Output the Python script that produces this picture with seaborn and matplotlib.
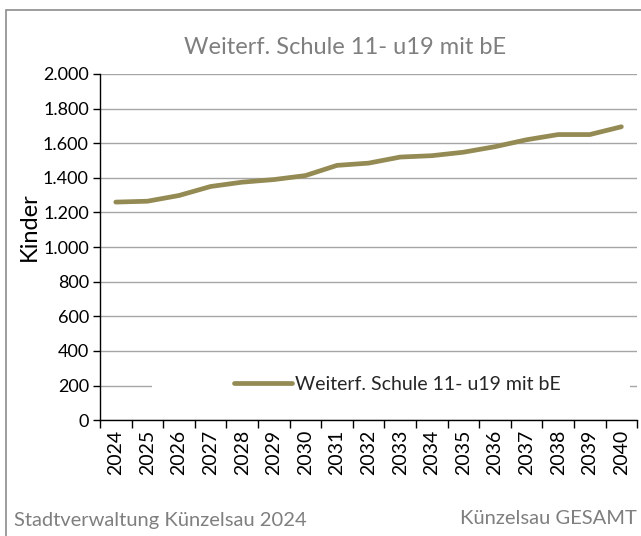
import pandas as pd
import seaborn as sns
import matplotlib.pyplot as plt
from matplotlib.ticker import FuncFormatter, MultipleLocator
from matplotlib.patches import Rectangle

# Data
years = [str(y) for y in range(2024, 2041)]
kinder = [1260, 1265, 1298, 1350, 1375, 1390, 1413, 1472, 1485,
          1520, 1528, 1548, 1580, 1620, 1650, 1650, 1695]
series_name = 'Weiterf. Schule 11- u19 mit bE'
line_color = '#948a54'
grey = '#7f7f7f'

df = pd.DataFrame({'Jahr': years, 'Kinder': kinder})

sns.set_theme(style='white')
plt.rcParams['font.family'] = ['Lato', 'DejaVu Sans']

fig = plt.figure(figsize=(6.41, 5.36), dpi=100)
ax = fig.add_axes([0.156, 0.216, 0.838, 0.646])

sns.lineplot(data=df, x='Jahr', y='Kinder', ax=ax, color=line_color,
             linewidth=3.4, label=series_name, zorder=3)

# axes styling
ax.set_ylim(0, 2000)
ax.set_xlim(-0.5, len(years) - 0.5)
ax.yaxis.set_major_locator(MultipleLocator(200))
ax.yaxis.set_major_formatter(FuncFormatter(lambda v, p: f'{int(v):,}'.replace(',', '.')))
ax.grid(axis='y', color='#a6a6a6', linewidth=1)
ax.set_axisbelow(True)
for s in ['top', 'right']:
    ax.spines[s].set_visible(False)
for s in ['left', 'bottom']:
    ax.spines[s].set_color('black')
    ax.spines[s].set_linewidth(1)

ax.xaxis.set_minor_locator(MultipleLocator(1, offset=0.5))
ax.tick_params(axis='x', which='major', length=0, labelsize=14, rotation=90, pad=7, colors='black')
ax.tick_params(axis='x', which='minor', length=6, width=1, direction='out', bottom=True, color='black')
ax.tick_params(axis='y', length=5, width=1, direction='out', left=True, labelsize=13, pad=3, colors='black')

ax.set_xlabel('')
ax.set_ylabel('Kinder', fontsize=17, color='black')
ax.yaxis.set_label_coords(-0.112, 0.558)

# legend inside the plot on a white strip
ax.add_patch(Rectangle((0.097, 0.083), 0.89, 0.04, transform=ax.transAxes,
                       facecolor='white', edgecolor='none', zorder=1))
ax.legend(loc='center', bbox_to_anchor=(0.553, 0.104), frameon=False,
          handlelength=3.0, handletextpad=0.15, fontsize=14)

# title and footers
fig.text(0.538, 0.912, series_name, ha='center', va='center', fontsize=17, color=grey)
fig.text(0.022, 0.028, 'Stadtverwaltung Künzelsau 2024', ha='left', va='center', fontsize=14.5, color=grey)
fig.text(0.994, 0.032, 'Künzelsau GESAMT', ha='right', va='center', fontsize=14.5, color=grey)

# chart border
fig.patches.append(Rectangle((6 / 641, -0.05), 1.1, 1 - 10 / 536 + 0.05, transform=fig.transFigure,
                             facecolor='none', edgecolor='#8c8c8c', linewidth=1.2))

fig.savefig('out.png', dpi=100)
